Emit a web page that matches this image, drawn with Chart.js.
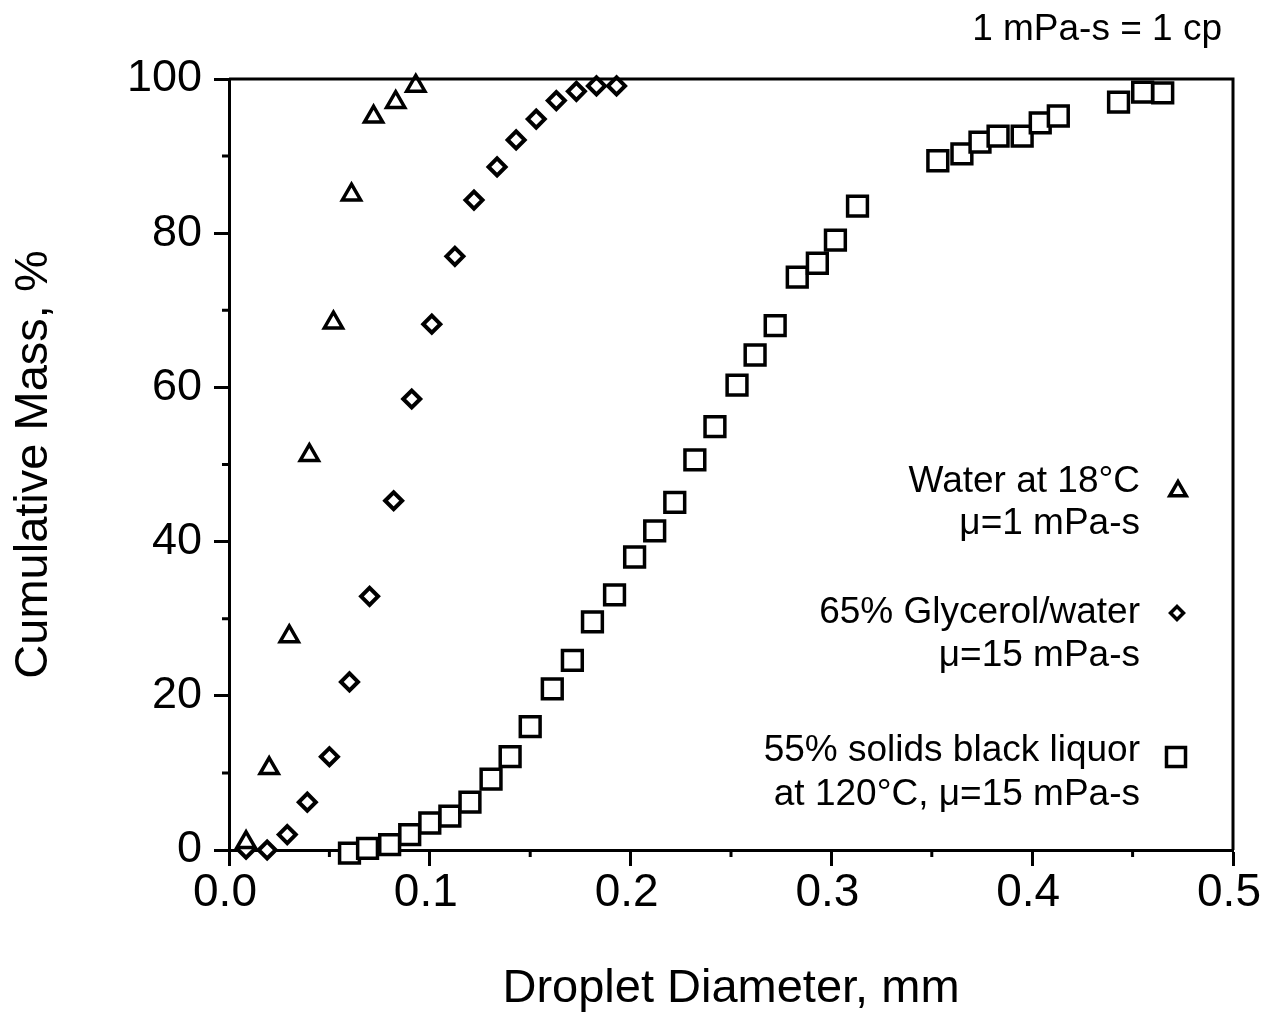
<!DOCTYPE html>
<html>
<head>
<meta charset="utf-8">
<script src="https://cdn.jsdelivr.net/npm/chart.js@4.4.1/dist/chart.umd.min.js"></script>
<style>
  html, body { margin: 0; padding: 0; background: #fff; }
  #wrap { width: 1271px; height: 1025px; position: relative; }
</style>
</head>
<body>
<div id="wrap"><canvas id="dropChart"></canvas></div>
<script>
// values (diameter in mm, cumulative mass in %)
const waterX = [0.0085, 0.020, 0.030, 0.040, 0.052, 0.061, 0.072, 0.083, 0.093];
const waterY = [1.0, 10.6, 27.7, 51.2, 68.4, 85.0, 95.1, 97.0, 99.1];

const glycerolX = [0.0085, 0.019, 0.029, 0.039, 0.050, 0.060, 0.070, 0.082, 0.091, 0.101,
                   0.1125, 0.122, 0.1335, 0.143, 0.153, 0.163, 0.173, 0.183, 0.193];
const glycerolY = [0.1, 0.0, 2.0, 6.2, 12.1, 21.8, 32.9, 45.3, 58.5, 68.2,
                   77.0, 84.3, 88.6, 92.1, 94.8, 97.2, 98.4, 99.1, 99.1];

const liquorX = [0.060, 0.069, 0.080, 0.090, 0.100, 0.110, 0.120, 0.1305, 0.140, 0.150,
                 0.161, 0.171, 0.181, 0.192, 0.202, 0.212, 0.222, 0.232, 0.242, 0.253,
                 0.262, 0.272, 0.283, 0.293, 0.302, 0.313, 0.353, 0.365, 0.374, 0.383,
                 0.395, 0.404, 0.413, 0.443, 0.455, 0.465];
const liquorY = [-0.4, 0.2, 0.7, 2.0, 3.5, 4.4, 6.2, 9.2, 12.1, 16.0,
                 20.9, 24.6, 29.6, 33.1, 38.0, 41.4, 45.1, 50.6, 54.9, 60.3,
                 64.2, 68.0, 74.3, 76.1, 79.1, 83.5, 89.4, 90.3, 91.8, 92.6,
                 92.6, 94.3, 95.2, 97.0, 98.3, 98.2];

const xMinorTicks = [0.05, 0.15, 0.25, 0.35, 0.45];
const yMinorTicks = [10, 30, 50, 70, 90];

const legendLines = [
    ['Water at 18°C', 'μ=1 mPa-s'],
    ['65% Glycerol/water', 'μ=15 mPa-s'],
    ['55% solids black liquor', 'at 120°C, μ=15 mPa-s']
];

const FONT = '"Liberation Sans", Arial, Helvetica, sans-serif';

function toPoints(xs, ys) {
    return xs.map((x, i) => ({ x: x, y: ys[i] }));
}

function markerPath(ctx, style, x, y, r) {
    ctx.beginPath();
    if (style === 'triangle') {
        ctx.moveTo(x, y - r);
        ctx.lineTo(x + r * Math.sin(2 * Math.PI / 3), y + r / 2);
        ctx.lineTo(x - r * Math.sin(2 * Math.PI / 3), y + r / 2);
    } else if (style === 'rectRot') {
        ctx.moveTo(x - r, y);
        ctx.lineTo(x, y - r);
        ctx.lineTo(x + r, y);
        ctx.lineTo(x, y + r);
    } else {
        ctx.rect(x - r, y - r, 2 * r, 2 * r);
    }
    ctx.closePath();
}

// frame on top/right plus the short minor ticks on the outer side
const framePlugin = {
    id: 'frame',
    afterDraw(chart) {
        const { ctx, chartArea: a, scales } = chart;
        ctx.save();
        ctx.strokeStyle = '#000';
        ctx.lineWidth = 3;
        ctx.beginPath();
        ctx.moveTo(a.left, a.top);
        ctx.lineTo(a.right, a.top);
        ctx.lineTo(a.right, a.bottom);
        ctx.stroke();

        ctx.beginPath();
        yMinorTicks.forEach(v => {
            const py = scales.y.getPixelForValue(v);
            ctx.moveTo(a.left - 7, py);
            ctx.lineTo(a.left, py);
        });
        xMinorTicks.forEach(v => {
            const px = scales.x.getPixelForValue(v);
            ctx.moveTo(px, a.bottom);
            ctx.lineTo(px, a.bottom + 7);
        });
        ctx.stroke();
        ctx.restore();
    }
};

// text legend on the right and the unit note at the top
const notesPlugin = {
    id: 'notes',
    afterDraw(chart) {
        const ctx = chart.ctx;
        ctx.save();
        ctx.fillStyle = '#000';
        ctx.textAlign = 'right';
        ctx.textBaseline = 'middle';
        ctx.font = '37px ' + FONT;
        ctx.fillText('1 mPa-s = 1 cp', 1222, 30);

        ctx.font = '37px ' + FONT;
        const rows = [[482, 524], [613, 656], [751, 795]];
        rows.forEach((r, i) => {
            ctx.fillText(legendLines[i][0], 1140, r[0]);
            ctx.fillText(legendLines[i][1], 1140, r[1]);
        });

        ctx.strokeStyle = '#000';
        ctx.fillStyle = '#fff';
        ctx.lineWidth = 3.5;
        markerPath(ctx, 'triangle', 1178, 491, 9.5);
        ctx.fill(); ctx.stroke();
        markerPath(ctx, 'rectRot', 1177, 613, 6.5);
        ctx.fill(); ctx.stroke();
        markerPath(ctx, 'rect', 1176, 757, 9.5);
        ctx.fill(); ctx.stroke();
        ctx.restore();
    }
};

const marker = {
    showLine: false,
    clip: false,
    borderColor: '#000',
    backgroundColor: '#fff',
    pointBorderColor: '#000',
    pointBackgroundColor: '#fff'
};

new Chart(document.getElementById('dropChart').getContext('2d'), {
    type: 'scatter',
    data: {
        datasets: [
            Object.assign({ label: 'Water at 18°C', data: toPoints(waterX, waterY),
                pointStyle: 'triangle', pointRadius: 10.5, pointBorderWidth: 3.5 }, marker),
            Object.assign({ label: '65% Glycerol/water', data: toPoints(glycerolX, glycerolY),
                pointStyle: 'rectRot', pointRadius: 8.5, pointBorderWidth: 4 }, marker),
            Object.assign({ label: '55% solids black liquor', data: toPoints(liquorX, liquorY),
                pointStyle: 'rect', pointRadius: 14, pointBorderWidth: 3.5 }, marker)
        ]
    },
    options: {
        responsive: true,
        maintainAspectRatio: false,
        animation: false,
        devicePixelRatio: 1,
        layout: { padding: { top: 79, right: 38, left: 0, bottom: 0 } },
        plugins: { legend: { display: false }, tooltip: { enabled: false } },
        scales: {
            x: {
                type: 'linear',
                min: 0,
                max: 0.5,
                afterFit: (s) => { s.height = 175; },
                ticks: {
                    stepSize: 0.1,
                    callback: (v) => v.toFixed(1),
                    color: '#000',
                    font: { family: FONT, size: 46 },
                    padding: 0,
                    labelOffset: -4,
                    maxRotation: 0
                },
                grid: { drawOnChartArea: false, drawTicks: true, tickLength: 16, tickWidth: 3, tickColor: '#000' },
                border: { color: '#000', width: 3 },
                title: {
                    display: true,
                    text: 'Droplet Diameter, mm',
                    color: '#000',
                    font: { family: FONT, size: 47 },
                    padding: { top: 0, bottom: 8 }
                }
            },
            y: {
                min: 0,
                max: 100,
                afterFit: (s) => { s.width = 229; },
                ticks: {
                    stepSize: 20,
                    color: '#000',
                    font: { family: FONT, size: 45 },
                    padding: 12
                },
                grid: { drawOnChartArea: false, drawTicks: true, tickLength: 15, tickWidth: 3, tickColor: '#000' },
                border: { color: '#000', width: 3 },
                title: {
                    display: true,
                    text: 'Cumulative Mass, %',
                    color: '#000',
                    font: { family: FONT, size: 47 },
                    padding: { top: 6, bottom: 0 }
                }
            }
        }
    },
    plugins: [framePlugin, notesPlugin]
});
</script>
</body>
</html>
